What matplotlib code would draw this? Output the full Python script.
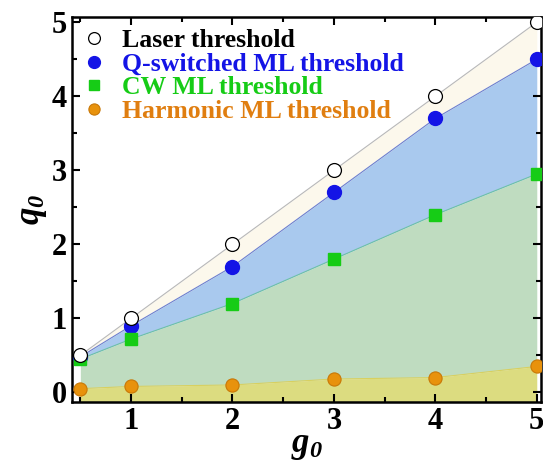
import numpy as np
import matplotlib.pyplot as plt
from matplotlib.ticker import MultipleLocator

plt.rcParams['font.family'] = 'Liberation Serif'
plt.rcParams['font.weight'] = 'bold'
plt.rcParams['mathtext.fontset'] = 'custom'
plt.rcParams['mathtext.it'] = 'Liberation Serif:italic:bold'
plt.rcParams['mathtext.rm'] = 'Liberation Serif:italic:bold'

# small-signal gain g0 and threshold pump q0 for each regime
g0 = [0.5, 1, 2, 3, 4, 5]
laser_th = [0.5, 1.0, 2.0, 3.0, 4.0, 5.0]
qs_ml_th = [0.48, 0.9, 1.7, 2.7, 3.7, 4.5]
cw_ml_th = [0.45, 0.72, 1.2, 1.8, 2.4, 2.95]
harm_ml_th = [0.05, 0.08, 0.1, 0.18, 0.2, 0.35]

fig = plt.figure(figsize=(5.43, 4.61), dpi=100)
ax = fig.add_axes([0.133, 0.128, 0.863, 0.835])

# shaded bands between neighbouring thresholds
ax.fill_between(g0, qs_ml_th, laser_th, color='#fcf8ec', lw=0)
ax.fill_between(g0, cw_ml_th, qs_ml_th, color='#a9c9ee', lw=0)
ax.fill_between(g0, harm_ml_th, cw_ml_th, color='#bfdcc0', lw=0)
ax.fill_between(g0, -1, harm_ml_th, color='#dcdc80', lw=0)

ax.plot(g0, laser_th, color='#b8b8b8', lw=0.8)
ax.plot(g0, qs_ml_th, color='#6b7fd0', lw=0.8)
ax.plot(g0, cw_ml_th, color='#6cc0a8', lw=0.8)
ax.plot(g0, harm_ml_th, color='#d8d060', lw=0.8)

ax.plot(g0, laser_th, 'o', ms=10, mfc='white', mec='black', mew=0.9,
        ls='none', label='Laser threshold', zorder=5)
ax.plot(g0, qs_ml_th, 'o', ms=10, mfc='#1414e6', mec='#1414e6',
        ls='none', label='Q-switched ML threshold', zorder=4)
ax.plot(g0, cw_ml_th, 's', ms=8.5, mfc='#16cc16', mec='#16cc16',
        ls='none', label='CW ML threshold', zorder=4)
ax.plot(g0, harm_ml_th, 'o', ms=9.5, mfc='#e8920c', mec='#c87808', mew=0.8,
        ls='none', label='Harmonic ML threshold', zorder=4)

ax.set_xlim(0.42, 5.04)
ax.set_ylim(-0.13, 5.07)
ax.xaxis.set_major_locator(MultipleLocator(1))
ax.xaxis.set_minor_locator(MultipleLocator(0.5))
ax.yaxis.set_major_locator(MultipleLocator(1))
ax.yaxis.set_minor_locator(MultipleLocator(0.5))
ax.tick_params(which='both', direction='in', top=True, right=True,
               width=1.5, labelsize=22)
ax.tick_params(which='major', length=6)
ax.tick_params(which='minor', length=3.5)
for s in ax.spines.values():
    s.set_linewidth(1.8)

ax.set_xlabel('$g_0$', fontsize=25, labelpad=-5)
ax.set_ylabel('$q_0$', fontsize=25, labelpad=2)

leg = ax.legend(loc='upper left', frameon=False, fontsize=18.5, handletextpad=0.75,
                labelspacing=0.02, borderaxespad=0.0, handlelength=0.7,
                markerscale=0.85, bbox_to_anchor=(0.005, 0.995))
for txt, c in zip(leg.get_texts(), ['black', '#1414e6', '#16cc16', '#e07e10']):
    txt.set_color(c)

fig.savefig('out.png', dpi=100)
